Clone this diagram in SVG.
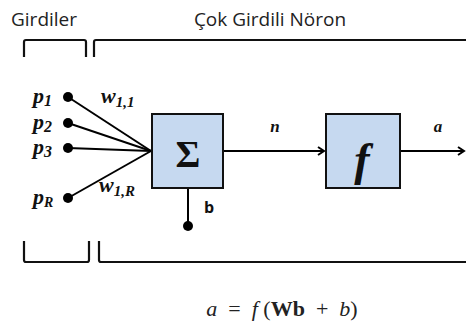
<svg xmlns="http://www.w3.org/2000/svg" width="466" height="324" viewBox="0 0 466 324">
<style>
.lbl{font-family:"Open Sans","Liberation Sans",sans-serif;font-size:19px;fill:#222}
.br{fill:none;stroke:#111;stroke-width:2.2;stroke-linejoin:round}
.ln{stroke:#000;stroke-width:2;fill:none}
.box{fill:#c6d9f0;stroke:#111;stroke-width:2}
.m{font-family:"Liberation Serif","DejaVu Serif",serif;font-style:italic;font-weight:bold;fill:#111}
.dot{fill:#000}
</style>
<defs>
<marker id="ar" markerWidth="10" markerHeight="10" refX="8" refY="5" orient="auto" markerUnits="userSpaceOnUse">
<path d="M2,1 L8,5 L2,9" fill="none" stroke="#000" stroke-width="2"/>
</marker>
</defs>
<text class="lbl" x="11" y="26">Girdiler</text>
<text class="lbl" x="270" y="26" text-anchor="middle">Çok Girdili Nöron</text>
<g id="brackets">
<path class="br" d="M24,57 V42 Q24,40 26,40 H84 Q86,40 86,42 V57"/>
<path class="br" d="M94,57 V42 Q94,40 96,40 H468"/>
<path class="br" d="M24,241 V260 Q24,262 26,262 H87 Q89,262 89,260 V241"/>
<path class="br" d="M99,241 V260 Q99,262 101,262 H468"/>
</g>
<g id="connectors">
<line class="ln" x1="68" y1="97" x2="151" y2="151"/>
<line class="ln" x1="68" y1="123" x2="151" y2="151"/>
<line class="ln" x1="68" y1="148" x2="151" y2="151"/>
<line class="ln" x1="68" y1="198" x2="151" y2="151"/>
<line class="ln" x1="188" y1="188" x2="188" y2="226"/>
<line class="ln" x1="223" y1="151" x2="324" y2="151" marker-end="url(#ar)"/>
<line class="ln" x1="400" y1="151" x2="464" y2="151" marker-end="url(#ar)"/>
</g>
<g id="inputs">
<circle class="dot" cx="68" cy="97" r="5"/>
<circle class="dot" cx="68" cy="123" r="5"/>
<circle class="dot" cx="68" cy="148" r="5"/>
<circle class="dot" cx="68" cy="198" r="5"/>
<text class="m" x="33" y="103" font-size="22">p<tspan font-size="16" dy="3">1</tspan></text>
<text class="m" x="33" y="129" font-size="22">p<tspan font-size="16" dy="3">2</tspan></text>
<text class="m" x="33" y="154" font-size="22">p<tspan font-size="16" dy="3">3</tspan></text>
<text class="m" x="33" y="204" font-size="22">p<tspan font-size="14" dy="3">R</tspan></text>
<text class="m" x="101" y="103" font-size="22">w<tspan font-size="15" dy="4">1,1</tspan></text>
<text class="m" x="99" y="192" font-size="22">w<tspan font-size="15" dy="4">1,R</tspan></text>
</g>
<g id="sum">
<rect class="box" x="152" y="114" width="71" height="74"/>
<text x="188" y="167" text-anchor="middle" font-family="Liberation Serif,serif" font-weight="bold" font-size="38" fill="#111">Σ</text>
</g>
<g id="bias">
<circle class="dot" cx="188" cy="226" r="5"/>
<text x="204" y="213" font-family="Open Sans,Liberation Sans,sans-serif" font-weight="bold" font-size="16" fill="#111">b</text>
</g>
<g id="act">
<rect class="box" x="326" y="114" width="74" height="74"/>
<text class="m" x="362" y="175" text-anchor="middle" font-size="46">f</text>
</g>
<text class="m" x="275" y="132" text-anchor="middle" font-size="17" font-family="Open Sans,Liberation Sans,sans-serif">n</text>
<text class="m" x="438" y="132" text-anchor="middle" font-size="17" font-family="Open Sans,Liberation Sans,sans-serif">a</text>
<text x="282" y="316" text-anchor="middle" font-family="Liberation Serif,serif" font-size="22" fill="#222" xml:space="preserve"><tspan font-style="italic">a</tspan>  =  <tspan font-style="italic">f</tspan> (<tspan font-weight="bold">Wb</tspan>  +  <tspan font-style="italic">b</tspan>)</text>
</svg>
